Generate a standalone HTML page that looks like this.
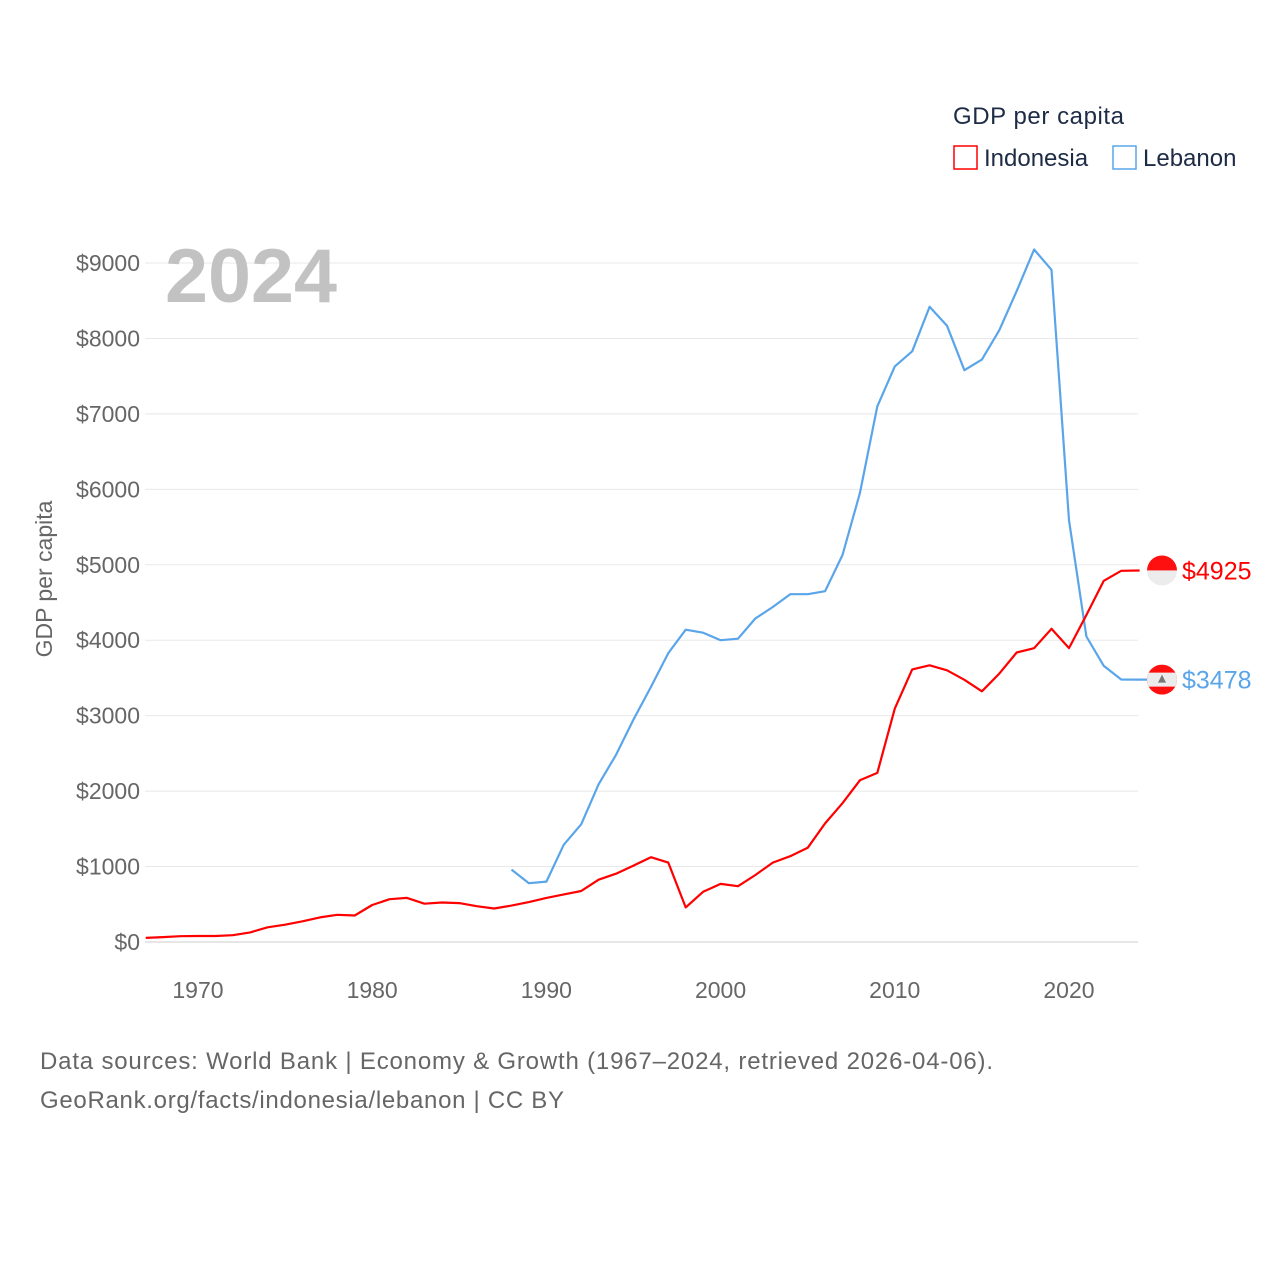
<!DOCTYPE html>
<html><head><meta charset="utf-8"><style>
html,body{margin:0;padding:0;background:#fff;}
svg{display:block;font-family:"Liberation Sans",sans-serif;}
</style></head><body>
<svg id="chart" width="1280" height="1280" viewBox="0 0 1280 1280">
<g id="grid"></g>
<g id="yticks"></g>
<g id="xticks"></g>
<text x="52" y="579" transform="rotate(-90 52 579)" text-anchor="middle" font-size="23" fill="#666">GDP per capita</text>
<text x="165" y="302" font-size="76" font-weight="bold" fill="#c2c2c2" textLength="172" lengthAdjust="spacingAndGlyphs">2024</text>
<g id="series"></g>
<g>
<text x="953" y="124" font-size="24" fill="#1d2b45" textLength="171">GDP per capita</text>
<g><rect x="954" y="146" width="23" height="23" fill="none" stroke="#ff0000" stroke-width="1.5"/><text x="984" y="166" font-size="24" fill="#1d2b45">Indonesia</text></g>
<g><rect x="1113" y="146" width="23" height="23" fill="none" stroke="#5aa5ea" stroke-width="1.5"/><text x="1143" y="166" font-size="24" fill="#1d2b45">Lebanon</text></g>
</g>
<text x="40" y="1069" font-size="24" fill="#666" textLength="953">Data sources: World Bank | Economy &amp; Growth (1967–2024, retrieved 2026-04-06).</text>
<text x="40" y="1108" font-size="24" fill="#666" textLength="524">GeoRank.org/facts/indonesia/lebanon | CC BY</text>
</svg>
<script>
const yTicks=[0,1000,2000,3000,4000,5000,6000,7000,8000,9000];
const xTicks=[1970,1980,1990,2000,2010,2020];
const idnStart=1967;
const idnValues=[54,65,77,80,79,90,127,195,229,274,326,361,351,491,567,584,508,523,515,474,444,483,529,585,631,676,826,905,1013,1124,1052,458,666,770,739,888,1052,1137,1249,1572,1840,2144,2242,3094,3613,3668,3602,3476,3323,3558,3837,3894,4151,3896,4334,4788,4920,4925];
const lbnStart=1988;
const lbnValues=[960,780,800,1290,1560,2090,2480,2950,3380,3830,4140,4100,4000,4020,4290,4440,4610,4610,4650,5130,5950,7100,7630,7830,8420,8170,7580,7720,8110,8630,9180,8910,5590,4050,3660,3480,3478];
const NS="http://www.w3.org/2000/svg";
const X=yr=>145.7+(yr-1967)*17.42;
const Y=v=>942-v*0.07544;
function mk(t,a,p){const e=document.createElementNS(NS,t);for(const k in a)e.setAttribute(k,a[k]);p.appendChild(e);return e;}
const grid=document.getElementById('grid'),yt=document.getElementById('yticks'),xt=document.getElementById('xticks'),ser=document.getElementById('series');
yTicks.forEach(v=>{
 const l=mk('line',{x1:145,x2:1138,y1:Y(v),y2:Y(v),stroke:v===0?'#ddd':'#e8e8e8','stroke-width':v===0?1.5:1},grid);
 
 
 const t=mk('text',{x:140,y:Y(v)+8,'text-anchor':'end','font-size':23,fill:'#666'},yt);
 t.textContent='$'+v;
 
 
});
xTicks.forEach(yr=>{
 const t=mk('text',{x:X(yr),y:998,'text-anchor':'middle','font-size':23,fill:'#666'},xt);
 t.textContent=yr;
 
 
});
function line(start,vals,color,name,extend){
 let pts=vals.map((v,i)=>X(start+i).toFixed(1)+','+Y(v).toFixed(1));
 const last=vals[vals.length-1];
 pts.push((X(start+vals.length-1)+extend)+','+Y(last).toFixed(1));
 const p=mk('polyline',{points:pts.join(' '),fill:'none',stroke:color,'stroke-width':2.2,'stroke-linejoin':'round'},ser);
 
 
}
line(lbnStart,lbnValues,'#5aa5ea','line-lebanon',10);
line(idnStart,idnValues,'#ff0000','line-indonesia',1);
function flag(v,type,color,label,name){
 const cx=1162,cy=Y(v);
 const g=mk('g',{},ser);
 
 
 mk('clipPath',{id:'c'+type},g).appendChild(document.createElementNS(NS,'circle'));
 const c=g.querySelector('clipPath circle');c.setAttribute('cx',cx);c.setAttribute('cy',cy);c.setAttribute('r',15);
 const cg=mk('g',{'clip-path':'url(#c'+type+')'},g);
 if(type==='idn'){
  mk('rect',{x:cx-15,y:cy-15,width:30,height:15,fill:'#ff1010'},cg);
  mk('rect',{x:cx-15,y:cy,width:30,height:15,fill:'#ececec'},cg);
 }else{
  mk('rect',{x:cx-15,y:cy-15,width:30,height:30,fill:'#ff1010'},cg);
  mk('rect',{x:cx-15,y:cy-7,width:30,height:14,fill:'#ececec'},cg);
  mk('polygon',{points:`${cx},${cy-5} ${cx-4},${cy+3} ${cx+4},${cy+3}`,fill:'#777'},cg);
 }
 const t=mk('text',{x:1182,y:cy+9,'font-size':25,fill:color},g);
 t.textContent=label;
}
flag(idnValues[idnValues.length-1],'idn','#ff0000','$'+idnValues[idnValues.length-1],'end-label-indonesia');
flag(lbnValues[lbnValues.length-1],'lbn','#5aa5ea','$'+lbnValues[lbnValues.length-1],'end-label-lebanon');
</script>
</body></html>
